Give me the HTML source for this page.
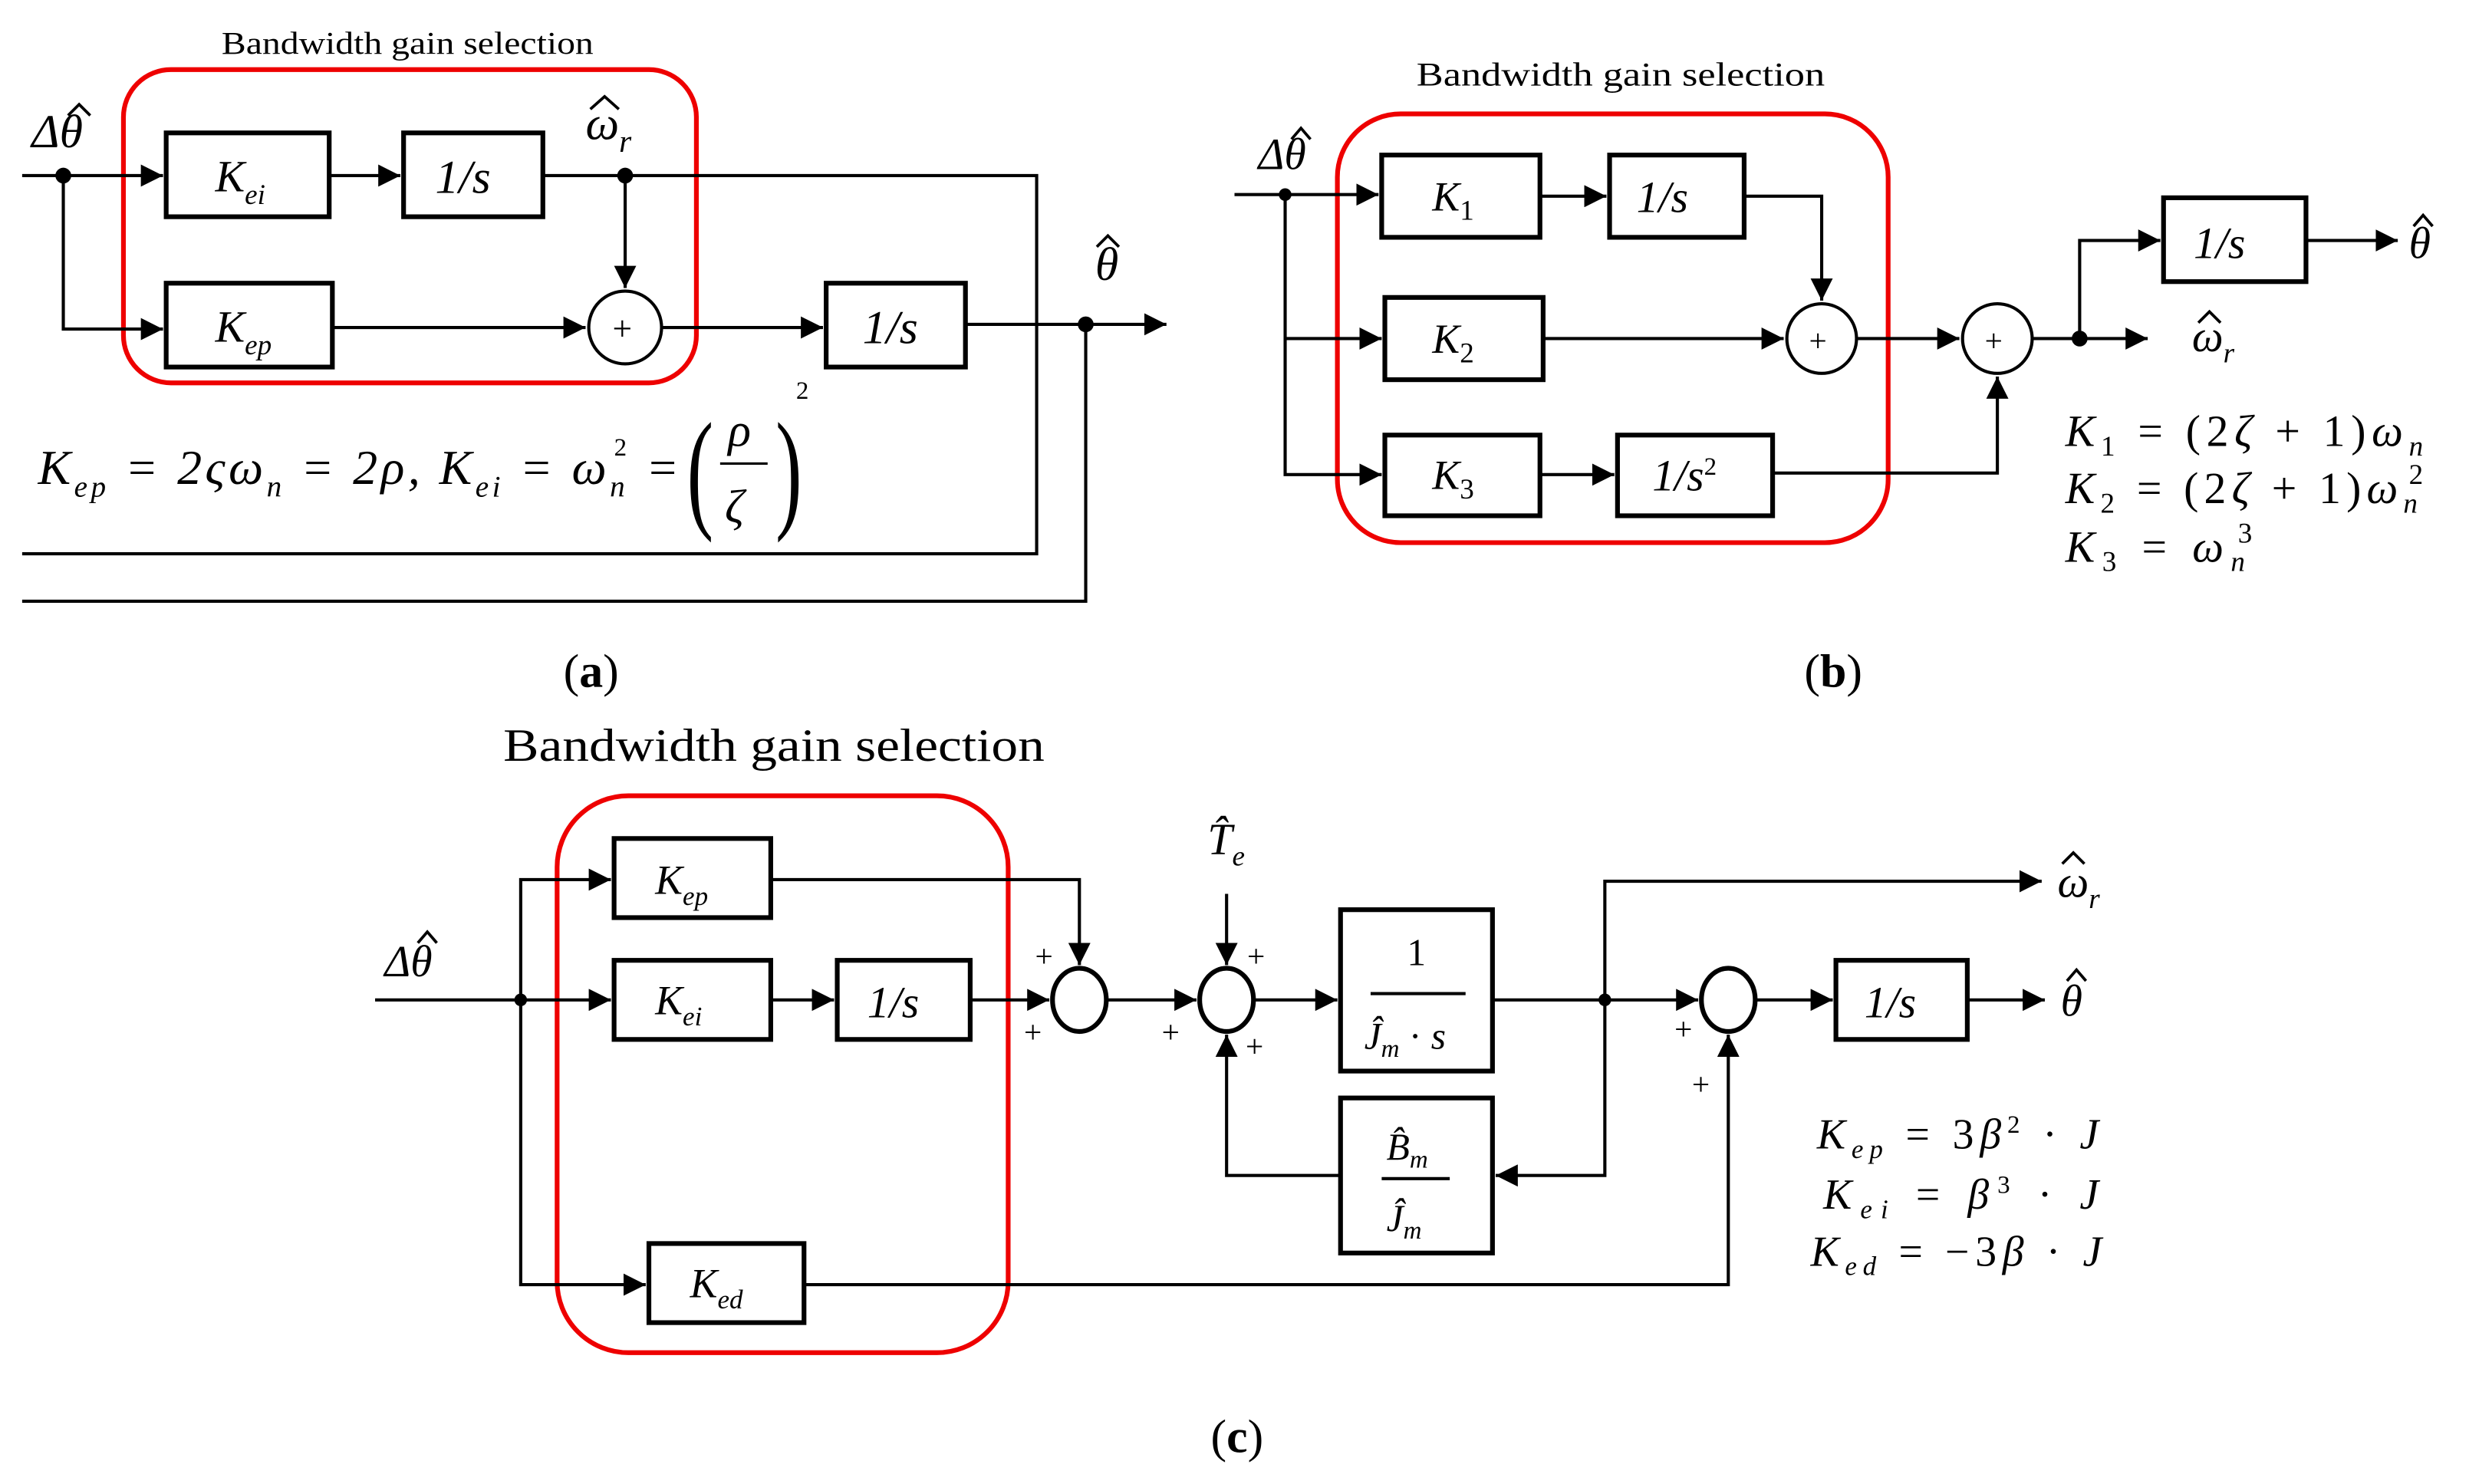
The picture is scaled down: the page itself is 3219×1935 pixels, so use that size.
<!DOCTYPE html>
<html><head><meta charset="utf-8"><style>
html,body{margin:0;padding:0;background:#fff;}
svg{display:block;}
text{font-family:"Liberation Serif",serif;fill:#000;}
.m{font-style:italic;}
</style></head><body>
<svg width="3219" height="1935" viewBox="0 0 1560 938" preserveAspectRatio="none" xmlns="http://www.w3.org/2000/svg">
<defs><marker id="b" viewBox="0 0 10 10" refX="10" refY="5" markerWidth="14" markerHeight="14" orient="auto" markerUnits="userSpaceOnUse"><path d="M0,0L10,5L0,10z" fill="#000"/></marker></defs>
<g fill="none" stroke="#000" stroke-width="2">
<!-- (a) -->
<rect x="78" y="44" width="362" height="198" rx="30" stroke="#e00" stroke-width="3"/>
<rect x="105" y="84" width="103" height="53" stroke-width="3"/>
<rect x="255" y="84" width="88" height="53" stroke-width="3"/>
<rect x="105" y="179" width="105" height="53" stroke-width="3"/>
<rect x="522" y="179" width="88" height="53" stroke-width="3"/>
<circle cx="395" cy="207" r="23"/>
<path d="M14 111H103" marker-end="url(#b)"/>
<path d="M208 111H253" marker-end="url(#b)"/>
<path d="M343 111H655V350H14"/>
<path d="M395 111V182" marker-end="url(#b)"/>
<path d="M40 111V208H103" marker-end="url(#b)"/>
<path d="M210 207H370" marker-end="url(#b)"/>
<path d="M418 207H520" marker-end="url(#b)"/>
<path d="M610 205H737" marker-end="url(#b)"/>
<path d="M686 205V380H14"/>
<!-- (b) -->
<rect x="845" y="72" width="348" height="271" rx="40" stroke="#e00" stroke-width="3"/>
<rect x="873" y="98" width="100" height="52" stroke-width="3"/>
<rect x="1017" y="98" width="85" height="52" stroke-width="3"/>
<rect x="875" y="188" width="100" height="52" stroke-width="3"/>
<rect x="875" y="275" width="98" height="51" stroke-width="3"/>
<rect x="1022" y="275" width="98" height="51" stroke-width="3"/>
<rect x="1367" y="125" width="90" height="53" stroke-width="3"/>
<circle cx="1151" cy="214" r="22"/><circle cx="1262" cy="214" r="22"/>
<path d="M780 123H871" marker-end="url(#b)"/>
<path d="M812 123V300H873" marker-end="url(#b)"/>
<path d="M812 214H873" marker-end="url(#b)"/>
<path d="M973 124H1015" marker-end="url(#b)"/>
<path d="M1102 124H1151V190" marker-end="url(#b)"/>
<path d="M975 214H1127" marker-end="url(#b)"/>
<path d="M973 300H1020" marker-end="url(#b)"/>
<path d="M1120 299H1262V238" marker-end="url(#b)"/>
<path d="M1173 214H1238" marker-end="url(#b)"/>
<path d="M1284 214H1357" marker-end="url(#b)"/>
<path d="M1314 214V152H1365" marker-end="url(#b)"/>
<path d="M1457 152H1515" marker-end="url(#b)"/>
<!-- (c) -->
<rect x="352" y="503" width="285" height="352" rx="45" stroke="#e00" stroke-width="3"/>
<rect x="388" y="530" width="99" height="50" stroke-width="3"/>
<rect x="388" y="607" width="99" height="50" stroke-width="3"/>
<rect x="529" y="607" width="84" height="50" stroke-width="3"/>
<rect x="410" y="786" width="98" height="50" stroke-width="3"/>
<rect x="847" y="575" width="96" height="102" stroke-width="3"/>
<rect x="847" y="694" width="96" height="98" stroke-width="3"/>
<rect x="1160" y="607" width="83" height="50" stroke-width="3"/>
<ellipse cx="682" cy="632" rx="17" ry="20" stroke-width="3"/>
<ellipse cx="775" cy="632" rx="17" ry="20" stroke-width="3"/>
<ellipse cx="1092" cy="632" rx="17" ry="20" stroke-width="3"/>
<path d="M237 632H386" marker-end="url(#b)"/>
<path d="M329 632V556H386" marker-end="url(#b)"/>
<path d="M329 632V812H408" marker-end="url(#b)"/>
<path d="M487 632H527" marker-end="url(#b)"/>
<path d="M487 556H682V610" marker-end="url(#b)"/>
<path d="M613 632H663" marker-end="url(#b)"/>
<path d="M699 632H756" marker-end="url(#b)"/>
<path d="M775 565V610" marker-end="url(#b)"/>
<path d="M792 632H845" marker-end="url(#b)"/>
<path d="M943 632H1073" marker-end="url(#b)"/>
<path d="M1014 632V557H1290" marker-end="url(#b)"/>
<path d="M1014 632V743H945" marker-end="url(#b)"/>
<path d="M847 743H775V654" marker-end="url(#b)"/>
<path d="M1109 632H1158" marker-end="url(#b)"/>
<path d="M1243 632H1292" marker-end="url(#b)"/>
<path d="M508 812H1092V654" marker-end="url(#b)"/>
<path d="M866 628H926M873 745H916"/>
</g>
<g fill="#000"><circle cx="40" cy="111" r="5"/><circle cx="395" cy="111" r="5"/><circle cx="686" cy="205" r="5"/>
<circle cx="812" cy="123" r="4"/><circle cx="1314" cy="214" r="5"/><circle cx="329" cy="632" r="4"/><circle cx="1014" cy="632" r="4"/></g>
<!-- hats -->
<g fill="none" stroke="#000" stroke-width="1.8">
<path d="M43 73L50 66L57 73"/><path d="M373 69L382 61L391 69"/><path d="M693 156L700 149L707 156"/>
<path d="M816 88L822 81L828 88"/><path d="M1525 143L1531 136L1537 143"/><path d="M1389 204L1396 197L1403 204"/>
<path d="M264 596L270 589L276 596"/><path d="M1306 620L1312 613L1318 620"/><path d="M1303 546L1310 539L1317 546"/>
</g>
<!-- texts (a) -->
<text x="140" y="34" font-size="20" textLength="235" lengthAdjust="spacingAndGlyphs">Bandwidth gain selection</text>
<text x="20" y="93" font-size="30" class="m">Δθ</text>
<text x="370" y="88" font-size="30" class="m">ω<tspan font-size="20" dy="8">r</tspan></text>
<text x="136" y="121" font-size="28" class="m">K<tspan font-size="18" dy="8">ei</tspan></text>
<text x="275" y="122" font-size="30" class="m">1/s</text>
<text x="136" y="216" font-size="28" class="m">K<tspan font-size="18" dy="8">ep</tspan></text>
<text x="387" y="215" font-size="22">+</text>
<text x="545" y="217" font-size="30" class="m">1/s</text>
<text x="692" y="177" font-size="30" class="m">θ</text>
<text x="24" y="306" font-size="31" class="m" textLength="405" lengthAdjust="spacing">K<tspan font-size="19" dy="8">ep</tspan><tspan dy="-8"> = 2ςω</tspan><tspan font-size="19" dy="8">n</tspan><tspan dy="-8"> = 2ρ,  K</tspan><tspan font-size="19" dy="8">ei</tspan><tspan dy="-8"> = ω</tspan><tspan font-size="19" dy="8">n</tspan><tspan font-size="16" dx="-9" dy="-26" font-style="normal">2</tspan><tspan dy="18"> = </tspan></text>
<text x="434" y="325" font-size="84" transform="translate(434 0) scale(0.6 1) translate(-434 0)">(</text>
<text x="490" y="325" font-size="84" transform="translate(490 0) scale(0.6 1) translate(-490 0)">)</text>
<text x="460" y="282" font-size="30" class="m">ρ</text>
<text x="458" y="330" font-size="30" class="m">ζ</text>
<line x1="455" y1="293" x2="485" y2="293" stroke="#000" stroke-width="1.5"/>
<text x="503" y="252" font-size="16">2</text>
<text x="356" y="434" font-size="30">(<tspan font-weight="bold">a</tspan>)</text>
<!-- (b) -->
<text x="895" y="54" font-size="21" textLength="258" lengthAdjust="spacingAndGlyphs">Bandwidth gain selection</text>
<text x="795" y="107" font-size="28" class="m">Δθ</text>
<text x="905" y="133" font-size="26" class="m">K<tspan font-size="18" dy="6" font-style="normal">1</tspan></text>
<text x="1034" y="134" font-size="28" class="m">1/s</text>
<text x="905" y="223" font-size="26" class="m">K<tspan font-size="18" dy="6" font-style="normal">2</tspan></text>
<text x="905" y="309" font-size="26" class="m">K<tspan font-size="18" dy="6" font-style="normal">3</tspan></text>
<text x="1044" y="310" font-size="28" class="m">1/s<tspan font-size="16" dy="-10" font-style="normal">2</tspan></text>
<text x="1143" y="222" font-size="20">+</text><text x="1254" y="222" font-size="20">+</text>
<text x="1386" y="163" font-size="28" class="m">1/s</text>
<text x="1522" y="163" font-size="28" class="m">θ</text>
<text x="1385" y="222" font-size="28" class="m">ω<tspan font-size="18" dy="7">r</tspan></text>
<text x="1305" y="282" font-size="28" class="m" textLength="226" lengthAdjust="spacing">K<tspan font-size="18" dy="6" font-style="normal">1</tspan><tspan dy="-6" font-style="normal">  = (2</tspan>ζ<tspan font-style="normal"> + 1)</tspan>ω<tspan font-size="18" dy="6">n</tspan></text>
<text x="1305" y="318" font-size="28" class="m" textLength="226" lengthAdjust="spacing">K<tspan font-size="18" dy="6" font-style="normal">2</tspan><tspan dy="-6" font-style="normal">  = (2</tspan>ζ<tspan font-style="normal"> + 1)</tspan>ω<tspan font-size="18" dy="6">n</tspan><tspan font-size="18" dx="-9" dy="-18" font-style="normal">2</tspan></text>
<text x="1305" y="355" font-size="28" class="m" textLength="118" lengthAdjust="spacing">K<tspan font-size="18" dy="6" font-style="normal">3</tspan><tspan dy="-6" font-style="normal">  = </tspan>ω<tspan font-size="18" dy="6">n</tspan><tspan font-size="18" dx="-9" dy="-18" font-style="normal">3</tspan></text>
<text x="1140" y="434" font-size="30">(<tspan font-weight="bold">b</tspan>)</text>
<!-- (c) -->
<text x="318" y="481" font-size="29" textLength="342" lengthAdjust="spacingAndGlyphs">Bandwidth gain selection</text>
<text x="243" y="617" font-size="28" class="m">Δθ</text>
<text x="414" y="565" font-size="26" class="m">K<tspan font-size="17" dy="7">ep</tspan></text>
<text x="414" y="641" font-size="26" class="m">K<tspan font-size="17" dy="7">ei</tspan></text>
<text x="548" y="643" font-size="28" class="m">1/s</text>
<text x="436" y="820" font-size="26" class="m">K<tspan font-size="17" dy="7">ed</tspan></text>
<text x="763" y="540" font-size="28" class="m">T̂<tspan font-size="18" dy="7">e</tspan></text>
<text x="889" y="610" font-size="24">1</text>
<text x="862" y="663" font-size="24" class="m">Ĵ<tspan font-size="16" dy="5">m</tspan><tspan dy="-5" font-style="normal"> · </tspan>s</text>
<text x="876" y="733" font-size="24" class="m">B̂<tspan font-size="16" dy="5">m</tspan></text>
<text x="876" y="778" font-size="24" class="m">Ĵ<tspan font-size="16" dy="5">m</tspan></text>
<text x="1178" y="643" font-size="28" class="m">1/s</text>
<text x="1302" y="642" font-size="28" class="m">θ</text>
<text x="1300" y="567" font-size="28" class="m">ω<tspan font-size="18" dy="7">r</tspan></text>
<g font-size="20"><text x="654" y="611">+</text><text x="647" y="659">+</text><text x="788" y="611">+</text><text x="734" y="659">+</text><text x="787" y="668">+</text><text x="1058" y="657">+</text><text x="1069" y="692">+</text></g>
<text x="1148" y="726" font-size="27" class="m" textLength="178" lengthAdjust="spacing">K<tspan font-size="17" dy="6">ep</tspan><tspan dy="-6" font-style="normal">  = 3</tspan>β<tspan font-size="16" dy="-10" font-style="normal">2</tspan><tspan dy="10" font-style="normal"> · </tspan>J</text>
<text x="1152" y="764" font-size="27" class="m" textLength="174" lengthAdjust="spacing">K<tspan font-size="17" dy="6">ei</tspan><tspan dy="-6" font-style="normal">  = </tspan>β<tspan font-size="16" dy="-10" font-style="normal">3</tspan><tspan dy="10" font-style="normal"> · </tspan>J</text>
<text x="1144" y="800" font-size="27" class="m" textLength="184" lengthAdjust="spacing">K<tspan font-size="17" dy="6">ed</tspan><tspan dy="-6" font-style="normal">  = −3</tspan>β<tspan font-style="normal"> · </tspan>J</text>
<text x="765" y="918" font-size="30">(<tspan font-weight="bold">c</tspan>)</text>
</svg>
</body></html>
